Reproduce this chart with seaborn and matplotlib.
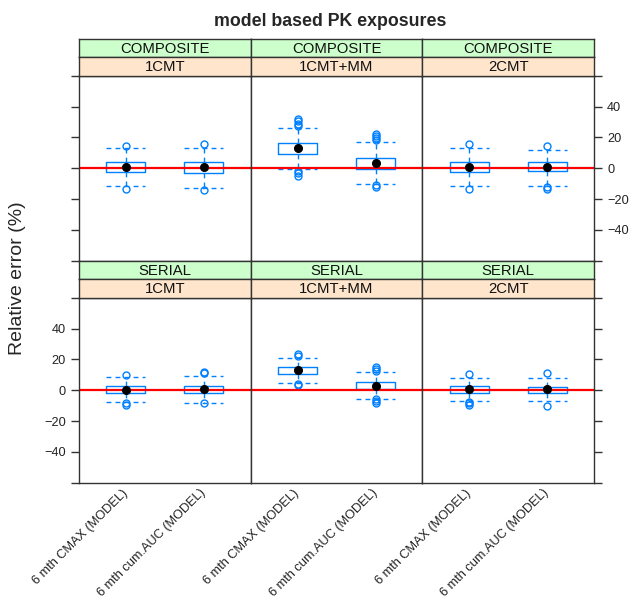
import numpy as np
import pandas as pd
import matplotlib
matplotlib.use("Agg")
import matplotlib.pyplot as plt
import seaborn as sns

sns.set_theme(style="white")
plt.rcParams['font.family'] = ['Liberation Sans', 'DejaVu Sans']

designs = ["COMPOSITE", "SERIAL"]
models = ["1CMT", "1CMT+MM", "2CMT"]
metrics = ["6 mth CMAX (MODEL)", "6 mth cum.AUC (MODEL)"]

# box stats, order: design > model > metric
medians = [1.0, 0.6, 13.0, 3.2, 0.6, 1.0,
           0.4, 0.8, 12.8, 3.0, 0.6, 0.6]
q1 = [-2.4, -3.0, 9.3, -0.3, -2.6, -2.0,
      -1.5, -1.5, 10.6, 0.8, -1.5, -1.7]
q3 = [4.3, 3.7, 16.3, 6.7, 3.7, 4.1,
      2.6, 2.8, 15.0, 5.4, 2.8, 2.4]
whisk_lo = [-11.3, -12.8, -0.5, -10.0, -11.5, -11.3,
            -7.4, -8.1, 4.8, -5.4, -6.8, -7.2]
whisk_hi = [13.0, 12.8, 26.3, 17.0, 12.8, 12.1,
            8.7, 8.9, 21.0, 11.5, 8.2, 7.8]
outliers = [[14.5, -13.5], [15.4, -14.1],
            [32.0, 30.4, 28.9, 27.6, -1.5, -3.3, -5.0],
            [22.5, 21.0, 19.5, 18.2, -11.2, -12.5],
            [15.6, -13.5], [14.3, -12.2, -13.8],
            [9.8, -8.6, -9.5], [11.9, 11.0, -8.5],
            [23.4, 21.9, 4.3, 3.2],
            [15.0, 13.7, 12.2, -6.0, -7.3, -8.6],
            [10.4, -7.6, -8.6, -9.5], [11.0, -10.4]]

rows = []
i = 0
for d in designs:
    for m in models:
        for k in metrics:
            rows.append(dict(design=d, model=m, metric=k, med=medians[i], q1=q1[i], q3=q3[i],
                             lo=whisk_lo[i], hi=whisk_hi[i], fliers=outliers[i]))
            i += 1
df = pd.DataFrame(rows)

blue = '#0080ff'
frame = '#333333'


def lattice_box(data, **kws):
    ax = plt.gca()
    data = data.set_index('metric').loc[metrics]
    pos = np.arange(1, len(metrics) + 1)
    stats = [dict(med=r.med, q1=r.q1, q3=r.q3, whislo=r.lo, whishi=r.hi, fliers=r.fliers)
             for r in data.itertuples()]
    ax.axhline(0, color='red', lw=1.6, zorder=2.5)
    ax.bxp(stats, positions=pos, widths=0.5, capwidths=0.5, manage_ticks=False,
           boxprops=dict(color=blue, lw=1),
           whiskerprops=dict(color=blue, lw=1, ls=(0, (3.5, 3))),
           capprops=dict(color=blue, lw=1, ls=(0, (3.5, 3))),
           flierprops=dict(marker='o', mfc='none', mec=blue, ms=5, mew=1),
           medianprops=dict(visible=False))
    ax.plot(pos, data['med'].values, 'o', color='black', ms=5.5, zorder=4)


g = sns.FacetGrid(df, row="design", col="model", row_order=designs, col_order=models,
                  sharex=False, sharey=False, despine=False, height=2, aspect=1)
g.map_dataframe(lattice_box)
g.set_titles("")
g.set_axis_labels("", "")

fig = g.figure
fig.set_size_inches(6.29, 6.0)
W, H = 629.0, 600.0

col_x = [79, 250.7, 422.3]
pw = 171.7
panel_top = [75.7, 297.7]
ph = 185.0
sh = 18.3

for r in range(2):
    for c in range(3):
        ax = g.axes[r, c]
        ax.set_position([col_x[c] / W, 1 - (panel_top[r] + ph) / H, pw / W, ph / H])
        ax.set_xlim(0.4, 2.6)
        ax.set_ylim(-60, 60)
        ax.set_yticks(np.arange(-60, 61, 20))
        ax.set_yticklabels(['' if abs(v) == 60 else str(v).replace('-', '\u2212')
                            for v in np.arange(-60, 61, 20)])
        ax.set_xticks([1, 2])
        if r == 1:
            ax.set_xticklabels(metrics, rotation=45, ha='right', va='center',
                               rotation_mode='anchor', fontsize=9.2, color='#222222')
        ax.tick_params(axis='x', bottom=False, top=False, length=0, labelbottom=(r == 1), pad=6)
        ax.tick_params(axis='y', left=(c == 0), right=(c == 2),
                       labelleft=(c == 0 and r == 1), labelright=(c == 2 and r == 0),
                       direction='out', length=5.5, width=1, color=frame,
                       labelsize=9.2, labelcolor='#222222', pad=4)
        for s in ax.spines.values():
            s.set_color(frame)
            s.set_linewidth(1)

        # strips: outer design (green) above inner model (orange)
        for j, (lab, col) in enumerate([(designs[r], '#ccffcc'), (models[c], '#ffe5cc')]):
            top = panel_top[r] - sh * (2 - j)
            sax = fig.add_axes([col_x[c] / W, 1 - (top + sh) / H, pw / W, sh / H])
            sax.set_facecolor(col)
            sax.set_xticks([])
            sax.set_yticks([])
            for s in sax.spines.values():
                s.set_color(frame)
                s.set_linewidth(1)
            sax.text(0.5, 0.45, lab, ha='center', va='center', fontsize=10.7,
                     color='#111111', transform=sax.transAxes)

fig.text(330 / W, 1 - 26 / H, "model based PK exposures", ha='center', va='baseline',
         fontsize=12.8, fontweight='bold')
fig.text(18 / W, 1 - 278 / H, "Relative error (%)", rotation=90, ha='center', va='center',
         fontsize=14)

fig.savefig('out.png', dpi=100)
